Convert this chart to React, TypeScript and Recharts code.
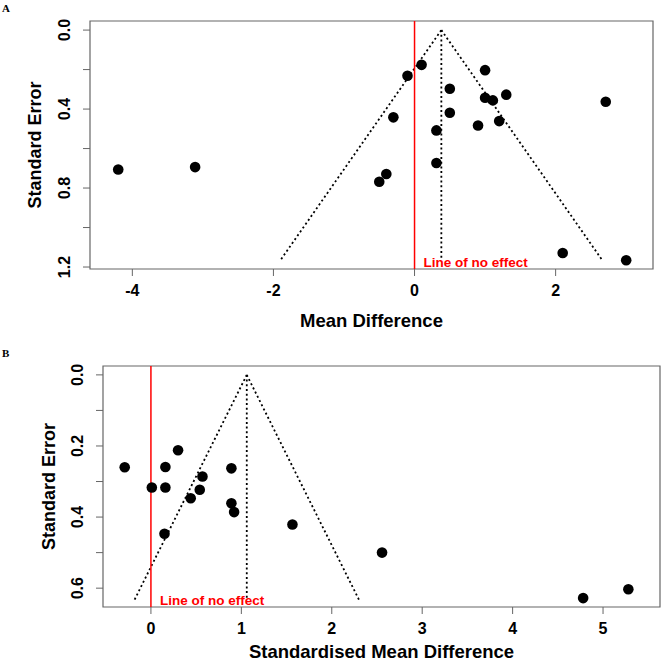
import React from 'react';
import { ScatterChart, Scatter, XAxis, YAxis, ReferenceLine, ReferenceArea } from 'recharts';

// Panel A: mean difference vs standard error
const meanDiffA = [-4.2, -3.11, -0.5, -0.4, -0.3, -0.1, 0.1, 0.31, 0.31, 0.5, 0.5, 0.9, 1.0, 1.0, 1.11, 1.2, 1.3, 2.71, 2.1, 3.0];
const stdErrA = [0.706, 0.694, 0.768, 0.729, 0.442, 0.231, 0.176, 0.508, 0.673, 0.297, 0.419, 0.483, 0.203, 0.343, 0.356, 0.461, 0.327, 0.363, 1.129, 1.166];
const funnelXA = [-1.89, 0.38, 2.65];
const funnelSeA = [1.16, 0, 1.16];
const xTicksA = [-4, -2, 0, 2];
const yTicksA = [0, 0.2, 0.4, 0.6, 0.8, 1.0, 1.2];
const yLabelsA = [0, 0.4, 0.8, 1.2];

// Panel B: standardised mean difference vs standard error
const smdB = [-0.29, 0.01, 0.16, 0.16, 0.15, 0.3, 0.44, 0.54, 0.57, 0.89, 0.89, 0.92, 1.565, 2.556, 4.78, 5.28];
const stdErrB = [0.26, 0.317, 0.259, 0.317, 0.447, 0.212, 0.347, 0.323, 0.286, 0.263, 0.361, 0.386, 0.421, 0.5, 0.628, 0.603];
const funnelXB = [-0.18, 1.06, 2.3];
const funnelSeB = [0.632, 0, 0.632];
const xTicksB = [0, 1, 2, 3, 4, 5];
const yTicksB = [0, 0.1, 0.2, 0.3, 0.4, 0.5, 0.6];
const yLabelsB = [0, 0.2, 0.4, 0.6];

const FONT = '"Liberation Sans", Arial, sans-serif';
const GREY = '#666';

const dataA = meanDiffA.map((x, i) => ({ x, y: stdErrA[i] }));
const dataB = smdB.map((x, i) => ({ x, y: stdErrB[i] }));

const Dot = (p: any) => <circle cx={p.cx} cy={p.cy} r={5.3} fill="#000" />;

const XTick = ({ x, y, payload }: any) => (
  <text x={x} y={y} dy="0.71em" textAnchor="middle" fontFamily={FONT} fontWeight="bold" fontSize={16} fill="#000">
    {payload.value}
  </text>
);

const makeYTick = (labelled: number[]) => ({ x, y, payload }: any) => {
  if (!labelled.some((v) => Math.abs(v - payload.value) < 1e-6)) return <g />;
  const bx = x - 13;
  return (
    <text
      x={bx}
      y={y}
      transform={`rotate(-90 ${bx} ${y})`}
      textAnchor="middle"
      fontFamily={FONT}
      fontWeight="bold"
      fontSize={16}
      fill="#000"
    >
      {payload.value.toFixed(1)}
    </text>
  );
};

const noEffectLabel = (props: any) => {
  const vb = props.viewBox;
  return (
    <text x={vb.x + 9} y={vb.y + vb.height - 2} fontFamily={FONT} fontWeight="bold" fontSize={13.5} fill="#ff0000">
      Line of no effect
    </text>
  );
};

interface PanelProps {
  data: { x: number; y: number }[];
  funnelX: number[];
  funnelSe: number[];
  xDomain: [number, number];
  yDomain: [number, number];
  xTicks: number[];
  yTicks: number[];
  yLabels: number[];
  xTitle: string;
  width: number;
  height: number;
  left: number;
  top: number;
  right: number;
  xAxisHeight: number;
  xTitleOffset: number;
  yTitleX: number;
}

const Panel: React.FC<PanelProps> = (p) => {
  const seg = (a: number, b: number) => [
    { x: p.funnelX[a], y: p.funnelSe[a] },
    { x: p.funnelX[b], y: p.funnelSe[b] },
  ];
  const apexX = p.funnelX[1];
  const baseSe = p.funnelSe[0];
  return (
    <ScatterChart width={p.width} height={p.height} margin={{ top: p.top, right: p.right, bottom: 0, left: 0 }}>
      <XAxis
        type="number"
        dataKey="x"
        domain={p.xDomain}
        ticks={p.xTicks}
        allowDataOverflow
        axisLine={false}
        tickLine={{ stroke: GREY }}
        tickSize={7}
        tickMargin={9}
        height={p.xAxisHeight}
        tick={<XTick />}
        label={{
          content: (lp: any) => (
            <text
              x={lp.viewBox.x + lp.viewBox.width / 2}
              y={lp.viewBox.y + p.xTitleOffset}
              textAnchor="middle"
              fontFamily={FONT}
              fontWeight="bold"
              fontSize={18.5}
              fill="#000"
            >
              {p.xTitle}
            </text>
          ),
        }}
      />
      <YAxis
        type="number"
        dataKey="y"
        domain={p.yDomain}
        ticks={p.yTicks}
        reversed
        allowDataOverflow
        axisLine={false}
        tickLine={{ stroke: GREY }}
        tickSize={7}
        tickMargin={0}
        width={p.left}
        tick={makeYTick(p.yLabels)}
        label={{
          content: (lp: any) => {
            const cy = lp.viewBox.y + lp.viewBox.height / 2;
            return (
              <text
                x={p.yTitleX}
                y={cy}
                transform={`rotate(-90 ${p.yTitleX} ${cy})`}
                textAnchor="middle"
                fontFamily={FONT}
                fontWeight="bold"
                fontSize={18}
                fill="#000"
              >
                Standard Error
              </text>
            );
          },
        }}
      />
      <ReferenceArea
        x1={p.xDomain[0]}
        x2={p.xDomain[1]}
        y1={p.yDomain[0]}
        y2={p.yDomain[1]}
        fill="none"
        stroke={GREY}
        strokeWidth={1.2}
        ifOverflow="visible"
      />
      <ReferenceLine segment={seg(0, 1)} stroke="#000" strokeWidth={1.8} strokeDasharray="2 2.7" ifOverflow="visible" />
      <ReferenceLine segment={seg(1, 2)} stroke="#000" strokeWidth={1.8} strokeDasharray="2 2.7" ifOverflow="visible" />
      <ReferenceLine
        segment={[{ x: apexX, y: 0 }, { x: apexX, y: baseSe }]}
        stroke="#000"
        strokeWidth={1.8}
        strokeDasharray="2 2.7"
        ifOverflow="visible"
      />
      <ReferenceLine x={0} stroke="#ff0000" strokeWidth={1.5} label={noEffectLabel} />
      <Scatter data={p.data} shape={Dot} isAnimationActive={false} />
    </ScatterChart>
  );
};

const panelLetter = (letter: string, top: number) => (
  <div
    style={{
      position: 'absolute',
      left: 2,
      top,
      fontFamily: '"Liberation Serif", "Times New Roman", serif',
      fontWeight: 'bold',
      fontSize: 11,
      lineHeight: '11px',
    }}
  >
    {letter}
  </div>
);

export default function App() {
  return (
    <div style={{ position: 'absolute', left: 0, top: 0, width: 662, height: 663, background: '#fff', overflow: 'hidden' }}>
      {panelLetter('A', 3)}
      {panelLetter('B', 348)}
      <div style={{ position: 'absolute', left: 0, top: 0 }}>
        <Panel
          data={dataA}
          funnelX={funnelXA}
          funnelSe={funnelSeA}
          xDomain={[-4.6, 3.38]}
          yDomain={[-0.046, 1.21]}
          xTicks={xTicksA}
          yTicks={yTicksA}
          yLabels={yLabelsA}
          xTitle="Mean Difference"
          width={662}
          height={330}
          left={90}
          top={21}
          right={9}
          xAxisHeight={61}
          xTitleOffset={57.5}
          yTitleX={40.5}
        />
      </div>
      <div style={{ position: 'absolute', left: 0, top: 330 }}>
        <Panel
          data={dataB}
          funnelX={funnelXB}
          funnelSe={funnelSeB}
          xDomain={[-0.53, 5.63]}
          yDomain={[-0.025, 0.653]}
          xTicks={xTicksB}
          yTicks={yTicksB}
          yLabels={yLabelsB}
          xTitle="Standardised Mean Difference"
          width={662}
          height={333}
          left={103}
          top={36}
          right={2}
          xAxisHeight={56}
          xTitleOffset={51}
          yTitleX={54.5}
        />
      </div>
    </div>
  );
}
